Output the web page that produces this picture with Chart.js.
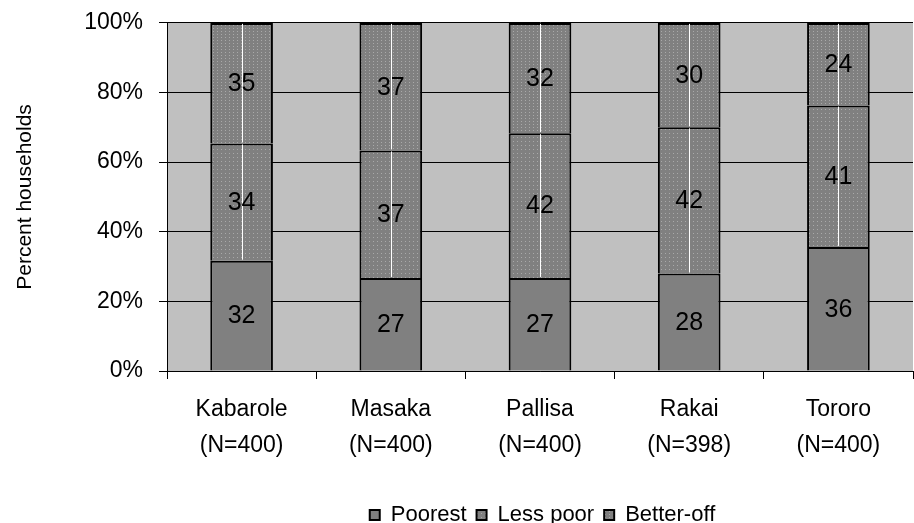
<!DOCTYPE html>
<html>
<head>
<meta charset="utf-8">
<script src="https://cdn.jsdelivr.net/npm/chart.js@4"></script>
<style>
    body { margin: 0; background: #fff; }
    .box { width: 914px; height: 523px; }
</style>
</head>
<body>
<div class="box"><canvas id="myChart"></canvas></div>
<script>
// data ---------------------------------------------------------
var districts = ['Kabarole', 'Masaka', 'Pallisa', 'Rakai', 'Tororo']
var sampleN = [400, 400, 400, 398, 400]
var poorest = [32, 27, 27, 28, 36]
var lessPoor = [34, 37, 42, 42, 41]
var betterOff = [35, 37, 32, 30, 24]
var yTicks = [0, 20, 40, 60, 80, 100]

// bars are stacked to 100%, labels show the raw numbers
function share(arr) {
    return arr.map(function (v, i) {
        var total = poorest[i] + lessPoor[i] + betterOff[i]
        return v / total * 100
    })
}

// ------------------------------------------------------------
// patterns
function dots(step) {
    var c = document.createElement('canvas')
    c.width = 4; c.height = step
    var x = c.getContext('2d')
    x.fillStyle = '#808080'
    x.fillRect(0, 0, 4, step)
    x.fillStyle = '#a9a9a9'
    x.fillRect(1, 1, 1, 1)
    return x.createPattern(c, 'repeat')
}
var lessPoorFill = dots(4)
var betterOffFill = dots(3)

// ------------------------------------------------------------
var plotBg = {
    id: 'plotBg',
    afterLayout: function (chart) {
        // legend in the original sits right of centre
        chart.legend.left += 86
        chart.legend.right += 86
    },
    beforeDraw: function (chart) {
        var a = chart.chartArea
        var ctx = chart.ctx
        ctx.save()
        ctx.fillStyle = '#c0c0c0'
        ctx.fillRect(a.left, a.top, a.right - a.left, a.bottom - a.top)
        ctx.restore()
    }
}

// white middle line + numbers in the segments
var segLabels = {
    id: 'segLabels',
    afterDatasetsDraw: function (chart) {
        var ctx = chart.ctx
        ctx.save()
        chart.data.datasets.forEach(function (ds, di) {
            if (di == 0) return
            chart.getDatasetMeta(di).data.forEach(function (bar) {
                ctx.strokeStyle = '#ffffff'
                ctx.lineWidth = 1
                ctx.beginPath()
                ctx.moveTo(Math.round(bar.x) + 0.5, bar.y + 1)
                ctx.lineTo(Math.round(bar.x) + 0.5, bar.base - 1)
                ctx.stroke()
            })
        })
        ctx.fillStyle = '#000'
        ctx.font = '25px "Liberation Sans", Arial, sans-serif'
        ctx.textAlign = 'center'
        ctx.textBaseline = 'middle'
        chart.data.datasets.forEach(function (ds, di) {
            chart.getDatasetMeta(di).data.forEach(function (bar, i) {
                ctx.fillText(ds.raw[i], bar.x, (bar.y + bar.base) / 2 + 1)
            })
        })
        ctx.restore()
    }
}

var fam = '"Liberation Sans", Arial, sans-serif'

const data = {
    labels: districts.map(function (d, i) { return [d, '(N=' + sampleN[i] + ')'] }),
    datasets: [{
        label: 'Poorest',
        raw: poorest,
        data: share(poorest),
        backgroundColor: '#808080'
    }, {
        label: 'Less poor',
        raw: lessPoor,
        data: share(lessPoor),
        backgroundColor: lessPoorFill
    }, {
        label: 'Better-off',
        raw: betterOff,
        data: share(betterOff),
        backgroundColor: betterOffFill
    }]
}

const config = {
    type: 'bar',
    data: data,
    plugins: [plotBg, segLabels],
    options: {
        responsive: true,
        maintainAspectRatio: false,
        animation: false,
        layout: { padding: { top: 10, right: 1, left: 0, bottom: -13 } },
        datasets: { bar: { categoryPercentage: 1, barPercentage: 0.42, borderColor: '#000', borderWidth: 2 } },
        scales: {
            x: {
                stacked: true,
                grid: { drawOnChartArea: false, color: '#000', tickLength: 8, offset: true },
                border: { color: '#000' },
                ticks: { color: '#000', font: { family: fam, size: 23, lineHeight: 1.55 }, padding: 13, maxRotation: 0 },
                afterFit: function (s) { s.height = 123 }
            },
            y: {
                stacked: true,
                min: 0, max: 100,
                afterBuildTicks: function (s) { s.ticks = yTicks.map(function (v) { return { value: v } }) },
                grid: { color: '#000', tickLength: 8 },
                border: { color: '#000' },
                // small lineHeight so the top label does not push the plot down
                ticks: { color: '#000', font: { family: fam, size: 23, lineHeight: 0.6 }, padding: 16, callback: function (v) { return v + '%' } },
                title: { display: true, text: 'Percent households', color: '#000', font: { family: fam, size: 21 }, padding: { top: 13, bottom: 0 } },
                afterFit: function (s) { s.width = 167 }
            }
        },
        plugins: {
            legend: {
                position: 'bottom',
                labels: { color: '#000', font: { family: fam, size: 22 }, boxWidth: 10, boxHeight: 10, padding: 10 }
            },
            tooltip: { enabled: false }
        }
    }
}
const myChart = new Chart(document.getElementById('myChart'), config)
</script>
</body>
</html>
